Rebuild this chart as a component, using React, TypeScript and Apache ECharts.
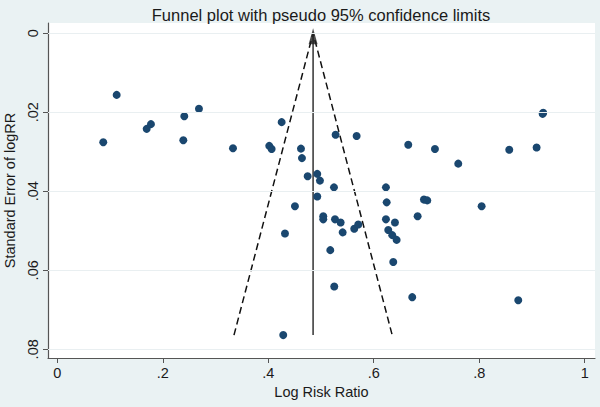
import React, { useEffect, useRef } from "react";
import * as echarts from "echarts";

// Log risk ratio of each study
const logRR = [
  0.1126, 0.0872, 0.1695, 0.1776, 0.2408, 0.2686, 0.2389, 0.3331, 0.4019, 0.4064,
  0.4254, 0.4317, 0.462, 0.4639, 0.4747, 0.4929, 0.498, 0.5246, 0.5277, 0.5676,
  0.6654, 0.716, 0.6231, 0.4929, 0.4506, 0.5043, 0.5043, 0.5265, 0.5372, 0.541,
  0.563, 0.5706, 0.5176, 0.5251, 0.6245, 0.6231, 0.6402, 0.6275, 0.6351, 0.6434,
  0.637, 0.6832, 0.6952, 0.7014, 0.673, 0.7602, 0.8569, 0.9088, 0.9202, 0.9213,
  0.8046, 0.4284, 0.874,
];
// Standard error of logRR of each study
const seLogRR = [
  0.0156, 0.0276, 0.0242, 0.023, 0.021, 0.0191, 0.0271, 0.0291, 0.0285, 0.0293,
  0.0225, 0.0507, 0.0292, 0.0316, 0.0362, 0.0356, 0.0373, 0.039, 0.0257, 0.026,
  0.0282, 0.0293, 0.039, 0.0413, 0.0438, 0.0463, 0.0471, 0.0471, 0.0479, 0.0504,
  0.0495, 0.0484, 0.0549, 0.0641, 0.0428, 0.0471, 0.0479, 0.0498, 0.0511, 0.0523,
  0.0579, 0.0463, 0.0421, 0.0423, 0.0668, 0.033, 0.0295, 0.0289, 0.0204, 0.0201,
  0.0438, 0.0764, 0.0676,
];
// Pooled estimate and pseudo 95% limits at the largest SE
const pooled = 0.485;
const seMax = 0.0764;
const lowerLimit = 0.335;
const upperLimit = 0.635;

const xTicks = [0, 0.2, 0.4, 0.6, 0.8, 1];
const yTicks = [0, 0.02, 0.04, 0.06, 0.08];

const fmt = (v: number) => (v === 0 ? "0" : String(v).replace(/^0/, ""));

export default function App() {
  const ref = useRef<HTMLDivElement>(null);
  useEffect(() => {
    if (!ref.current) return;
    const chart = echarts.init(ref.current, null, { renderer: "svg" });
    const font = "'Liberation Sans', Arial, sans-serif";
    chart.setOption({
      animation: false,
      backgroundColor: "#eaf2f3",
      textStyle: { fontFamily: font },
      title: {
        text: "Funnel plot with pseudo 95% confidence limits",
        left: 316,
        top: 1,
        textAlign: "center",
        textStyle: { fontSize: 16.5, fontWeight: "normal", color: "#1a1a1a", fontFamily: font },
      },
      grid: {
        left: 48,
        right: 5,
        top: 23,
        bottom: 49,
        containLabel: false,
        outerBoundsMode: "none",
        show: true,
        backgroundColor: "#ffffff",
        borderWidth: 0,
      },
      xAxis: {
        type: "value",
        min: -0.0176,
        max: 1.0195,
        name: "Log Risk Ratio",
        nameLocation: "middle",
        nameGap: 26,
        nameTextStyle: { fontSize: 14.5, color: "#1a1a1a", fontFamily: font },
        axisLine: { show: true, onZero: false, lineStyle: { color: "#555", width: 1.2 } },
        axisTick: { show: true, length: 5, customValues: xTicks, lineStyle: { color: "#555" } },
        axisLabel: {
          customValues: xTicks,
          formatter: fmt,
          fontSize: 14.5,
          color: "#1a1a1a",
          margin: 7,
          fontFamily: font,
        },
        splitLine: { show: false },
      },
      yAxis: {
        type: "value",
        inverse: true,
        min: -0.0026,
        max: 0.0822,
        name: "Standard Error of logRR",
        nameLocation: "middle",
        nameGap: 28,
        nameTextStyle: { fontSize: 14.5, color: "#1a1a1a", fontFamily: font },
        axisLine: { show: true, onZero: false, lineStyle: { color: "#555", width: 1.2 } },
        axisTick: { show: true, length: 5, customValues: yTicks, lineStyle: { color: "#555" } },
        axisLabel: {
          customValues: yTicks,
          formatter: fmt,
          fontSize: 14.5,
          color: "#1a1a1a",
          rotate: 90,
          margin: 8,
          fontFamily: font,
        },
        splitLine: { show: false },
      },
      series: [
        {
          type: "line",
          data: [],
          silent: true,
          z: 0,
          markLine: {
            silent: true,
            symbol: "none",
            label: { show: false },
            lineStyle: { color: "#e9eff1", type: "solid", width: 1.2 },
            data: yTicks.map((v) => ({ yAxis: v })),
          },
        },
        {
          type: "line",
          data: [
            [lowerLimit, seMax],
            [pooled, 0],
            [upperLimit, seMax],
          ],
          symbol: "none",
          lineStyle: { color: "#111", width: 1.5, type: [7, 4] },
          silent: true,
          z: 2,
        },
        {
          type: "line",
          data: [
            [pooled, 0],
            [pooled, seMax],
          ],
          symbol: "none",
          lineStyle: { color: "#333", width: 1.5, type: "solid" },
          silent: true,
          z: 2,
        },
        {
          type: "scatter",
          data: [[pooled, 0]],
          symbol: "triangle",
          symbolSize: [9, 16],
          symbolOffset: [0, 3],
          itemStyle: { color: "#222" },
          silent: true,
          z: 3,
        },
        {
          type: "scatter",
          data: logRR.map((x, i) => [x, seLogRR[i]]),
          symbol: "circle",
          symbolSize: 8,
          itemStyle: { color: "#1a476f", opacity: 1 },
          z: 4,
        },
      ],
    });
    return () => chart.dispose();
  }, []);
  return (
    <div
      ref={ref}
      style={{ position: "fixed", left: 0, top: 0, width: 600, height: 407 }}
    />
  );
}
